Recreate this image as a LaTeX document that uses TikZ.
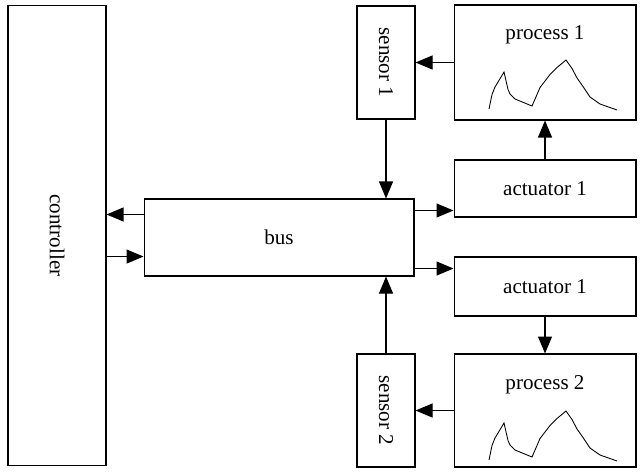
\documentclass[tikz,border=0pt]{standalone}
\usepackage{fontspec}
\setmainfont{Liberation Serif}
\usepackage{tikz}
\usetikzlibrary{shapes.geometric, arrows.meta}
\tikzstyle{box} = [rectangle, draw=black, line width=0.6pt, inner sep=0pt, font=\fontsize{12}{14}\selectfont]
\tikzstyle{wide} = [box, minimum width=3.64cm]
\tikzstyle{sensor} = [box, minimum width=1.16cm, minimum height=2.26cm]
\tikzstyle{txt} = [font=\fontsize{12}{14}\selectfont]
\tikzstyle{arrow} = [line width=0.6pt,-{Triangle[length=3.4mm,width=2.8mm]}]

\begin{document}
\begin{tikzpicture}[x=0.02cm, y=-0.02cm]
            \useasboundingbox (0,0) rectangle (641,471);
            \node (controller) [box, minimum width=1.96cm, minimum height=9.22cm] at (57,235.5) {};
            \node (ctrllabel) [txt, rotate=-90] at (controller.center) {controller};
            \node (bus) [box, minimum width=5.4cm, minimum height=1.54cm] at (279,237.5) {bus};
            \node (sensor1) [sensor] at (386,62.5) {\rotatebox{-90}{sensor 1}};
            \node (sensor2) [sensor] at (386,410.5) {\rotatebox{-90}{sensor 2}};
            \node (process1) [wide, minimum height=2.3cm] at (545,62.5) {};
            \node (process2) [wide, minimum height=2.26cm] at (545,410.5) {};
            \node (p1label) [txt] at ([yshift=-0.6cm]process1.north) {process 1};
            \node (p2label) [txt] at ([yshift=-0.62cm]process2.north) {process 2};
            \node (actuator1) [wide, minimum height=1.14cm] at (545,188.5) {actuator 1};
            \node (actuator2) [wide, minimum height=1.18cm] at (545,286.5) {actuator 1};

            % process curves
            \foreach \p/\dy in {process1/0, process2/-3}
                \draw [line width=0.5pt, shift={(\p.center)}, yshift=\dy*0.02cm]
                    (-56,46.5) -- (-53,32) -- (-50,24.5) -- (-41,9.5) -- (-37,27) -- (-35,31.5)
                    -- (-30,36.5) -- (-13,43.5) -- (-8,32) -- (-5,25) -- (5,12) -- (12,5)
                    -- (21,-2.5) -- (27,6) -- (32,15.5) -- (38,24) -- (45,34.5) -- (55,41.5) -- (72,47.5);

            \coordinate (bustop) at ([yshift=-0.24cm]bus.north east);
            \coordinate (busbot) at ([yshift=0.16cm]bus.south east);
            \coordinate (busout) at ([yshift=-0.32cm]bus.north west);
            \coordinate (busin) at ([yshift=0.4cm]bus.south west);

            \draw [arrow] (process1) -- (sensor1);
            \draw [arrow] (process2) -- (sensor2);
            \draw [arrow] (actuator1.north) -- (process1.south);
            \draw [arrow] (actuator2.south) -- (process2.north);
            \draw [arrow] (sensor1.south) -- (sensor1.south |- bus.north);
            \draw [arrow] (sensor2.north) -- (sensor2.north |- bus.south);
            \draw [arrow] (bustop) -- (bustop -| actuator1.west);
            \draw [arrow] (busbot) -- (busbot -| actuator2.west);
            \draw [arrow] (busout) -- (busout -| controller.east);
            \draw [arrow] (busin -| controller.east) -- (busin);
        \end{tikzpicture}
\end{document}
